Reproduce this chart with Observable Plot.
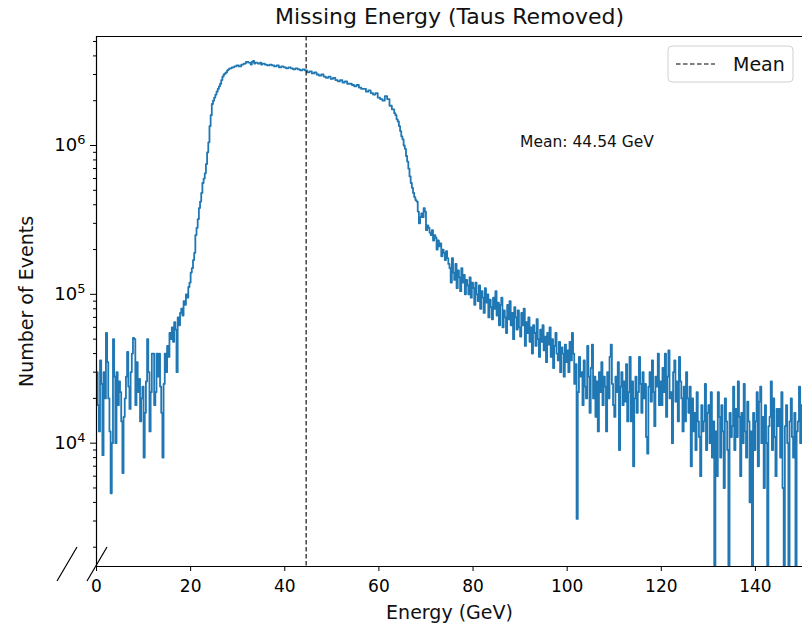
<!DOCTYPE html>
<html>
<head>
<meta charset="utf-8">
<script src="https://cdn.jsdelivr.net/npm/d3@7"></script>
<script src="https://cdn.jsdelivr.net/npm/@observablehq/plot@0.6"></script>
<style>
  html, body { margin: 0; padding: 0; background: #fff; }
  #chart { width: 802px; height: 624px; overflow: hidden; }
  svg { font-family: "DejaVu Sans", sans-serif; }
</style>
</head>
<body>
<div id="chart"></div>
<script>
// ---- Data ----
const titleText = "Missing Energy (Taus Removed)";
const xLabel = "Energy (GeV)";
const yLabel = "Number of Events";
const meanEnergy = 44.54;
const meanLabel = "Mean: 44.54 GeV";
const legendLabel = "Mean";
const binWidth = 0.25;       // GeV
const binStart = 0;          // GeV
// thousands of events per 0.25 GeV bin, 0 – 150 GeV (one row = 1 GeV)
const countsK = [
  30, 18, 12, 36,   25, 8.3, 30, 20,   55, 35, 20, 12,   4.6, 10, 50, 28,   10, 30, 18, 26,
  22, 14, 6.3, 15,  20, 28, 41, 24,    17, 30, 40, 51,   50, 18, 35, 22,    27, 14, 20, 24,
  8, 16, 26, 50,    30, 12, 22, 40,    40, 18, 22, 40,   28, 40, 24, 16,    8, 25, 40, 30,
  45, 38, 55, 50,   60, 48, 65, 58,    30, 70, 62, 75,   80, 72, 90, 85,    100, 95, 112, 120,
  140, 150, 170, 190,   250, 280, 320, 380,   420, 480, 560, 600,   650, 750, 900, 1050,   1350, 1600, 1900, 2000,
  2100, 2200, 2300, 2400,   2500, 2600, 2750, 2900,   3000, 3050, 3100, 3200,   3250, 3300, 3300, 3350,   3350, 3400, 3400, 3450,
  3450, 3400, 3400, 3500,   3500, 3550, 3550, 3650,   3650, 3600, 3600, 3500,   3650, 3700, 3550, 3600,   3600, 3550, 3550, 3600,
  3500, 3550, 3550, 3500,   3500, 3450, 3450, 3500,   3500, 3450, 3450, 3400,   3400, 3450, 3450, 3350,   3350, 3400, 3400, 3350,
  3350, 3300, 3300, 3350,   3350, 3300, 3300, 3250,   3250, 3300, 3300, 3250,   3250, 3200, 3200, 3250,   3250, 3200, 3200, 3100,
  3100, 3150, 3150, 3050,   3050, 3100, 3100, 3000,   3000, 2950, 2950, 3000,   3000, 2900, 2900, 2850,   2850, 2900, 2900, 2800,
  2800, 2850, 2850, 2750,   2750, 2700, 2700, 2750,   2750, 2650, 2650, 2700,   2700, 2600, 2600, 2600,   2600, 2550, 2550, 2500,
  2500, 2550, 2550, 2450,   2450, 2400, 2400, 2400,   2400, 2300, 2300, 2350,   2350, 2250, 2250, 2200,   2200, 2250, 2250, 2100,
  2100, 2050, 2050, 2000,   2000, 2150, 2150, 2050,   2050, 1850, 1850, 1750,   1750, 1650, 1600, 1500,   1450, 1350, 1250, 1150,
  1100, 1000, 950, 850,   780, 700, 620, 560,   520, 480, 450, 430,   420, 360, 300, 330,   350, 330, 380, 360,
  270, 290, 280, 260,   250, 270, 230, 250,   240, 200, 230, 210,   220, 180, 200, 190,   170, 195, 175, 160,
  150, 120, 175, 140,   125, 160, 110, 145,   130, 105, 150, 120,   135, 100, 125, 115,   100, 130, 95, 120,
  110, 85, 120, 100,    90, 115, 80, 105,    95, 75, 110, 88,     100, 70, 92, 82,     68, 95, 80, 105,
  72, 88, 62, 85,       95, 60, 78, 70,      55, 85, 68, 90,      62, 75, 50, 82,      70, 58, 78, 60,
  52, 75, 62, 80,       45, 65, 55, 70,      48, 60, 40, 62,      55, 45, 68, 50,      38, 58, 48, 62,
  42, 52, 35, 55,       46, 60, 38, 50,      32, 45, 55, 40,      36, 48, 30, 44,      40, 28, 46, 35,
  42, 30, 48, 36,       55, 40, 25, 34,      3.1, 22, 38, 28,     30, 18, 36, 24,      20, 45, 28, 16,
  32, 46, 20, 28,       15, 26, 12, 30,      22, 35, 18, 28,      24, 12, 30, 20,      38, 46, 25, 18,
  15, 28, 22, 35,       9, 24, 30, 18,       26, 19, 34, 14,      22, 38, 14, 26,      7, 20, 28, 16,
  22, 38, 25, 16,       30, 20, 25, 11,      8.5, 24, 30, 19,     36, 22, 13, 28,      24, 40, 18, 26,
  18, 32, 22, 40,       15, 28, 42, 20,      22, 10, 30, 36,      19, 26, 14, 38,      26, 20, 12, 24,
  14, 30, 20, 16,       24, 7, 20, 12,       16, 9, 22, 14,       11, 6, 18, 12,       14, 25, 9, 16,
  18, 10, 22, 8,        14, 1.2, 12, 6,      22, 15, 8, 18,       12, 5, 20, 14,       9, 1.3, 16, 11,
  13, 24, 9, 17,        11, 26, 15, 6,       16, 10, 25, 12,      8, 19, 14, 4,        12, 1.2, 16, 9,
  14, 22, 7, 19,        24, 10, 15, 5,       18, 10, 1.2, 13,     15, 26, 9, 20,       11, 6, 17, 13,
  17, 8, 22, 5,         1.2, 13, 18, 10,     1.3, 14, 20, 11,     8, 16, 1.2, 12,      14, 24, 10, 18
];
const xTicks = [0, 20, 40, 60, 80, 100, 120, 140];
const yMajorTicks = [1e4, 1e5, 1e6];
const yMajorExponents = ["4", "5", "6"];
const xDomain = [0, 150];
const yDomain = [1484, 5.4e6];

// ---- Build table ----
const steps = countsK.map((c, i) => ({x: binStart + i * binWidth, y: c * 1000}));
steps.push({x: binStart + countsK.length * binWidth, y: countsK[countsK.length - 1] * 1000});

const yMinorTicks = [];
for (let e = 3; e <= 6; e++) for (let m = 2; m <= 9; m++) {
  const v = m * Math.pow(10, e);
  if (v >= yDomain[0] && v <= yDomain[1]) yMinorTicks.push(v);
}

const lg0 = Math.log10(yDomain[0]), lg1 = Math.log10(yDomain[1]);
const annot = [{x: xDomain[0] + 0.6 * (xDomain[1] - xDomain[0]), y: Math.pow(10, lg0 + 0.8 * (lg1 - lg0)), t: meanLabel}];

const blue = "#1f77b4";
const W = 802, H = 624;
const mL = 96, mR = 0, mT = 36, mB = 58;

const chart = Plot.plot({
  width: W, height: H,
  marginLeft: mL, marginRight: mR, marginTop: mT, marginBottom: mB,
  style: {fontFamily: "DejaVu Sans, sans-serif", fontSize: "17px", background: "white", color: "black"},
  x: {domain: xDomain},
  y: {type: "log", domain: yDomain},
  marks: [
    Plot.line(steps, {x: "x", y: "y", curve: "step-after", stroke: blue, strokeWidth: 1.8, clip: true}),
    Plot.ruleX([meanEnergy], {stroke: "black", strokeWidth: 1.1, strokeDasharray: "4.5,2.5"}),
    Plot.text(annot, {x: "x", y: "y", text: "t", textAnchor: "start", fontSize: 15.5, fill: "#111"}),
    Plot.axisX({ticks: xTicks, tickSize: 5, tickPadding: 8, tickFormat: d => String(d), fontSize: 17, label: null}),
    Plot.axisY({ticks: yMajorTicks, tickSize: 6, tickPadding: 5, tickFormat: d => "10^" + yMajorExponents[yMajorTicks.indexOf(d)], fontSize: 18, label: null}),
    Plot.axisY({ticks: yMinorTicks, tickSize: 3, tickFormat: () => "", label: null}),
    Plot.ruleY([yDomain[1]], {stroke: "black", strokeWidth: 1.2}),
    Plot.ruleY([yDomain[0]], {stroke: "black", strokeWidth: 1.2}),
    Plot.ruleX([xDomain[0]], {stroke: "black", strokeWidth: 1.2}),
    Plot.text([titleText], {frameAnchor: "top", lineAnchor: "middle", textAnchor: "middle", dy: -20, fontSize: 22, fill: "#111"}),
    Plot.text([xLabel], {frameAnchor: "bottom", lineAnchor: "middle", textAnchor: "middle", dy: 46, fontSize: 19, fill: "#111"}),
    Plot.text([yLabel], {frameAnchor: "left", lineAnchor: "middle", textAnchor: "middle", dx: -70, rotate: -90, fontSize: 19, fill: "#111"})
  ]
});

document.getElementById("chart").appendChild(chart);

// ---- Superscript exponents for the log tick labels ----
const svgSel = d3.select(chart);
svgSel.selectAll("text").each(function() {
  const t = d3.select(this);
  const s = t.text();
  const m = /^10\^(\d)$/.exec(s);
  if (m) {
    t.text(null);
    t.append("tspan").text("10");
    t.append("tspan").attr("dy", "-0.55em").attr("font-size", "0.72em").text(m[1]);
  }
});

// ---- Legend and broken-axis marks (decoration, placed relative to the frame) ----
const xs = chart.scale("x");
const frameRight = W - mR, frameTop = mT, frameBottom = H - mB;
const lw = 125, lh = 36;
const lx = frameRight - 9 - lw, ly = frameTop + 10;
const g = svgSel.append("g");
g.append("rect").attr("x", lx).attr("y", ly).attr("width", lw).attr("height", lh)
  .attr("rx", 4).attr("fill", "white").attr("fill-opacity", 0.85).attr("stroke", "#d0d0d0");
g.append("line").attr("x1", lx + 8).attr("x2", lx + 47).attr("y1", ly + lh / 2).attr("y2", ly + lh / 2)
  .attr("stroke", "black").attr("stroke-width", 1.1).attr("stroke-dasharray", "4.5,2.5");
g.append("text").attr("x", lx + 65).attr("y", ly + lh / 2).attr("dy", "0.35em")
  .attr("text-anchor", "start").attr("font-size", 19).attr("fill", "#111").text(legendLabel);

const x0 = xs.apply(xDomain[0]);
[0, -30].forEach(off => {
  svgSel.append("line")
    .attr("x1", x0 + off - 9).attr("y1", frameBottom + 15)
    .attr("x2", x0 + off + 11).attr("y2", frameBottom - 19)
    .attr("stroke", "black").attr("stroke-width", 1.2);
});
</script>
</body>
</html>
